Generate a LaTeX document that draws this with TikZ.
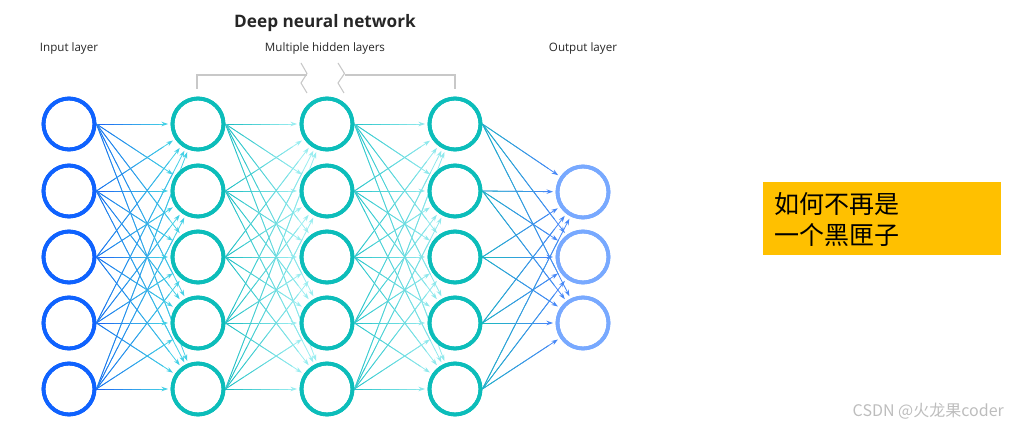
\documentclass[tikz,border=0pt]{standalone}
\usepackage{fontspec}
\setmainfont{Open Sans}
\newfontfamily\cjk{Noto Sans CJK SC}
\usetikzlibrary{arrows.meta,calc}
\definecolor{inblue}{HTML}{0F62FE}
\definecolor{hteal}{HTML}{0CBDBA}
\definecolor{outblue}{HTML}{78A9FF}
\definecolor{eAs}{HTML}{1E68F2}
\definecolor{eAe}{HTML}{45D0E6}
\definecolor{eBs}{HTML}{1FBEC2}
\definecolor{eBe}{HTML}{9AEDF0}
\definecolor{eCs}{HTML}{2CC6CA}
\definecolor{eCe}{HTML}{8FE8EC}
\definecolor{eDs}{HTML}{1CB9C0}
\definecolor{eDe}{HTML}{4788F7}
\definecolor{bracketgray}{HTML}{C8C8C8}
\definecolor{boxyellow}{HTML}{FFC000}
\definecolor{wmgray}{HTML}{BDBDBD}
\newcommand\gedge[4]{%
  \coordinate (gs) at (#1.east);
  \coordinate (ge) at ($(#2)!30pt!(#1.east)$);
  \draw[edge,color=#4,-{Stealth[length=6.5pt,width=4.5pt]}] (gs) -- (ge);
  \foreach \k in {0,...,6}{%
    \pgfmathsetmacro\ta{\k/8}%
    \pgfmathsetmacro\tb{(\k+1)/8}%
    \pgfmathtruncatemacro\pc{100-\k*100/7}%
    \draw[edge,color=#3!\pc!#4] ($(gs)!\ta!(ge)$) -- ($(gs)!\tb!(ge)$);
  }%
}
\tikzset{
  neuron/.style={circle,inner sep=0pt,minimum size=51pt,line width=3.8pt,fill=white},
  inneuron/.style={neuron,draw=inblue},
  hidneuron/.style={neuron,draw=hteal},
  outneuron/.style={neuron,draw=outblue},
  edge/.style={line width=0.8pt,line cap=butt},
  lbl/.style={font=\fontsize{11.6}{13}\selectfont,text=black!85},
  bracket/.style={draw=bracketgray,line width=1.1pt}
}
\begin{document}
\begin{tikzpicture}[x=1pt,y=-1pt]
\useasboundingbox (0,0) rectangle (1009,430);
% neurons
\foreach \i/\y in {0/124,1/191,2/257,3/323,4/389}{
  \node[inneuron] (in\i) at (69,\y) {};
  \node[hidneuron] (ha\i) at (198,\y) {};
  \node[hidneuron] (hb\i) at (327,\y) {};
  \node[hidneuron] (hc\i) at (455,\y) {};
}
\foreach \j/\y in {0/192,1/257,2/323}{
  \node[outneuron] (out\j) at (583,\y) {};
}
% edges
\foreach \i in {0,...,4}{
  \foreach \j in {0,...,4}{
    \gedge{in\i}{ha\j}{eAs}{eAe}
    \gedge{ha\i}{hb\j}{eBs}{eBe}
    \gedge{hb\i}{hc\j}{eCs}{eCe}
  }
  \foreach \j in {0,...,2}{
    \gedge{hc\i}{out\j}{eDs}{eDe}
  }
}
% redraw neuron rings on top
\foreach \i in {0,...,4}{
  \draw[inblue,line width=3.8pt] (in\i) circle[radius=25.5pt];
  \draw[hteal,line width=3.8pt] (ha\i) circle[radius=25.5pt];
  \draw[hteal,line width=3.8pt] (hb\i) circle[radius=25.5pt];
  \draw[hteal,line width=3.8pt] (hc\i) circle[radius=25.5pt];
}
\foreach \j in {0,...,2}{
  \draw[outblue,line width=3.8pt] (out\j) circle[radius=25.5pt];
}
% labels
\node[font=\bfseries\fontsize{17.2}{20}\selectfont,text=black!85] (title) at (325,23) {Deep neural network};
\node[lbl] (hidlbl) at (325,48) {Multiple hidden layers};
\node[lbl] (inlbl) at (69,48) {Input layer};
\node[lbl] (outlbl) at (583,48) {Output layer};
% bracket
\coordinate (bl) at (197,89);
\coordinate (br) at (455,89);
\draw[bracket] (bl) -- (197,75) -- (307,75);
\draw[bracket] (301,63) -- (307,73.5) -- (301,83) -- (307,93);
\draw[bracket] (338,63) -- (344.5,73.5) -- (338,83) -- (344,93);
\draw[bracket] (344.5,75) -- (455,75) -- (br);
% box
\node[fill=boxyellow,inner sep=0pt,minimum width=238pt,minimum height=73pt,anchor=north west] (box) at (763,182) {};
\node[anchor=west,align=left,inner sep=0pt,font=\cjk\fontsize{25}{31}\selectfont] (boxtext) at (774,220) {如何不再是\\一个黑匣子};
% watermark
\node[anchor=east,inner sep=0pt,text=wmgray,font=\cjk\fontsize{16}{19}\selectfont] (wm) at (1004,411) {CSDN @火龙果coder};
\end{tikzpicture}
\end{document}
